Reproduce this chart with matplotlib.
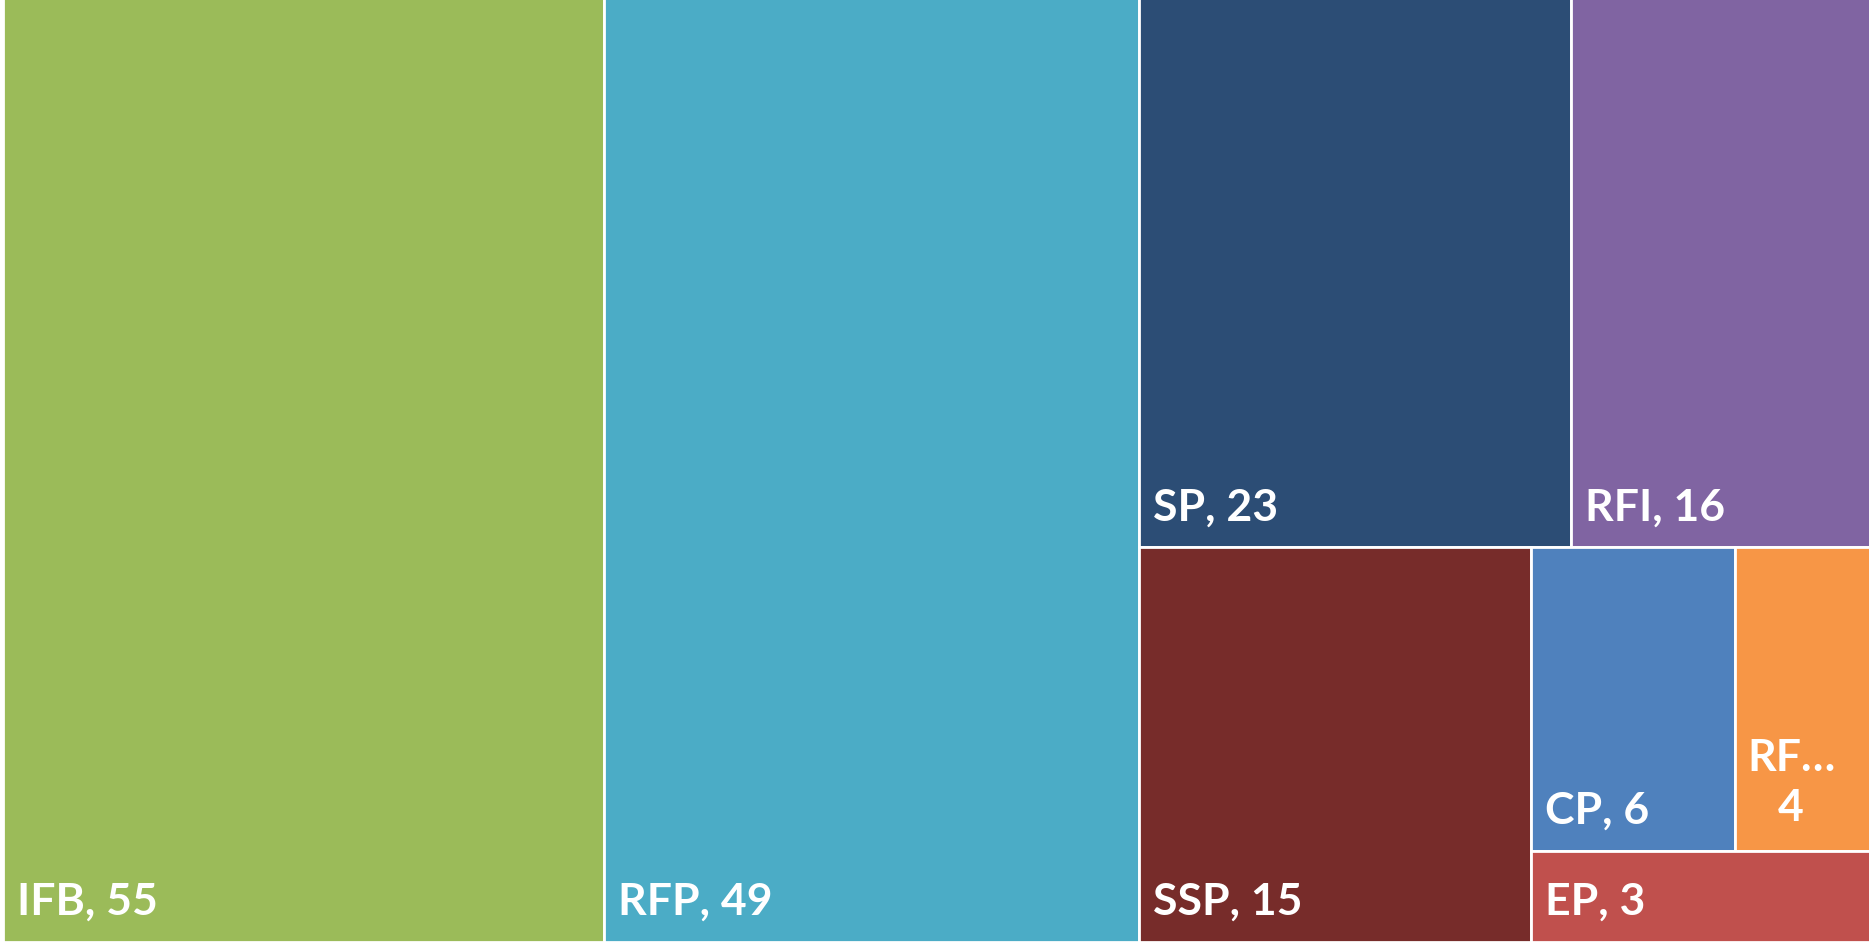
import matplotlib.pyplot as plt
from matplotlib.patches import Rectangle

plt.rcParams["font.family"] = ['Lato', 'DejaVu Sans']

labels = ['IFB', 'RFP', 'SP', 'RFI', 'SSP', 'CP', 'RF…', 'EP']
values = [55, 49, 23, 16, 15, 6, 4, 3]
colors = ['#9BBB59', '#4BACC6', '#2C4D75', '#8064A2',
          '#772C2A', '#4F81BD', '#F79646', '#C0504D']

# nesting of the tiles: 'h' splits left to right, 'v' splits top to bottom
layout = ('h', [0, 1, ('v', [('h', [2, 3]),
                             ('h', [4, ('v', [('h', [5, 6]), 7])])])])


def total(node):
    if isinstance(node, int):
        return values[node]
    return sum(total(c) for c in node[1])


def place(node, x, y, w, h, out):
    if isinstance(node, int):
        out[node] = (x, y, w, h)
        return
    direction, children = node
    s = total(node)
    if direction == 'h':
        for c in children:
            cw = w * total(c) / s
            place(c, x, y, cw, h, out)
            x += cw
    else:
        # y is the top edge, going down
        for c in children:
            ch = h * total(c) / s
            place(c, x, y, w, ch, out)
            y -= ch


# tiles run a couple of pixels past the top and right edges
W, H = 1868, 944
rects = {}
place(layout, 0, H, W, H, rects)

fig = plt.figure(figsize=(18.69, 9.44), dpi=100)
ax = fig.add_axes([3 / 1869, 2 / 944, W / 1869, H / 944])
ax.set_xlim(0, W)
ax.set_ylim(0, H)
ax.axis('off')

for i, lab in enumerate(labels):
    x, top, w, h = rects[i]
    ax.add_patch(Rectangle((x, top - h), w, h, facecolor=colors[i],
                           edgecolor='white', linewidth=2))
    if lab.endswith('…'):
        ax.text(x + 56, top - h + 30, f'{lab}\n{values[i]}', color='white',
                fontsize=32, fontweight='bold', ha='center', va='baseline',
                multialignment='center', linespacing=1.3)
    else:
        ax.text(x + 14, top - h + 27, f'{lab}, {values[i]}', color='white',
                fontsize=32, fontweight='bold', ha='left', va='baseline')

fig.savefig('out.png', dpi=100)
